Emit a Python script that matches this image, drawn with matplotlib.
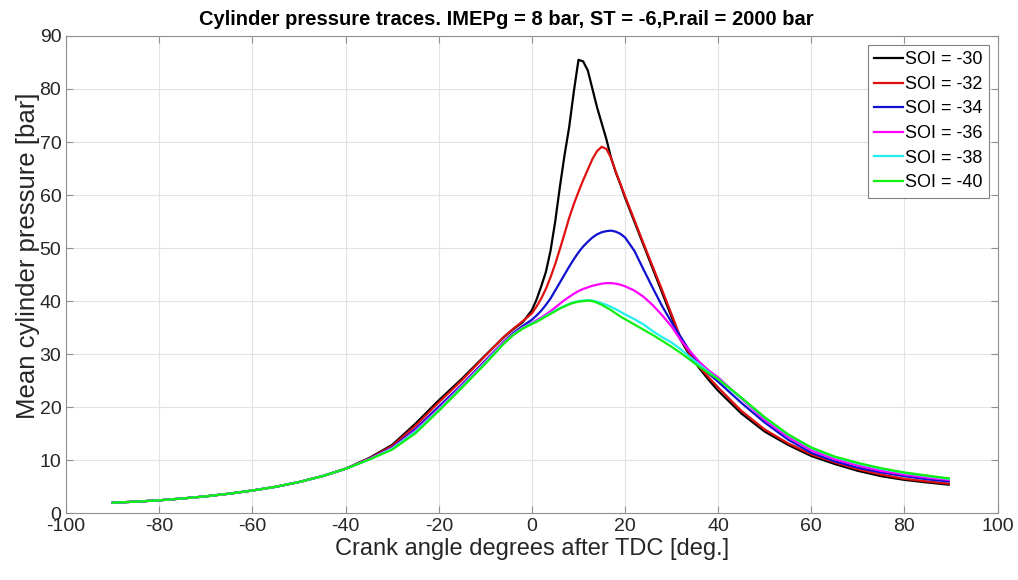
import matplotlib
matplotlib.use('Agg')
import matplotlib.pyplot as plt

# crank angle grid [deg ATDC]
angle = [-90, -85, -80, -75, -70, -65, -60, -55, -50, -45, -40, -35,
         -30, -25, -20, -15, -10, -8, -6, -4, -2, 0,
         1, 2, 3, 4, 5, 6, 7, 8, 9, 10, 11, 12, 13, 14, 15, 16, 17, 18, 19, 20,
         22, 24, 26, 28, 30, 32, 34, 36, 38, 40,
         45, 50, 55, 60, 65, 70, 75, 80, 85, 89.5]

# compression part shared by all traces
comp = [2.0, 2.2, 2.45, 2.8, 3.2, 3.7, 4.3, 5.0, 5.9, 7.0, 8.4]

p_soi30 = comp + [10.4, 12.9, 16.9, 21.3, 25.4, 29.8, 31.5, 33.2, 34.7, 36.0, 38.3,
                  40.3, 42.8, 45.5, 49.5, 55.0, 61.5, 67.5, 72.8, 79.5, 85.5,
                  85.2, 83.5, 80.0, 76.5, 73.5, 70.5, 67.0, 64.3, 62.0, 59.5,
                  55.0, 50.5, 46.0, 41.5, 37.0, 32.6, 29.6, 27.3, 25.1, 23.1,
                  18.8, 15.4, 12.9, 10.8, 9.3, 8.0, 7.0, 6.3, 5.8, 5.4]
p_soi32 = comp + [10.3, 12.7, 16.5, 20.9, 25.1, 29.7, 31.5, 33.3, 34.8, 36.2, 37.7,
                  39.0, 40.5, 42.3, 44.5, 47.0, 49.8, 52.7, 55.7, 58.3, 60.6,
                  62.8, 64.8, 66.8, 68.3, 69.1, 68.7, 67.0, 64.4, 62.1, 59.8,
                  55.3, 50.8, 46.4, 42.0, 37.5, 32.9, 29.9, 27.6, 25.6, 23.7,
                  19.3, 15.8, 13.2, 11.1, 9.6, 8.3, 7.3, 6.5, 6.0, 5.6]
p_soi34 = comp + [10.2, 12.4, 15.9, 20.1, 24.3, 28.8, 30.6, 32.4, 34.0, 35.3, 36.5,
                  37.3, 38.2, 39.3, 40.5, 42.0, 43.5, 45.0, 46.5, 47.9, 49.2,
                  50.3, 51.2, 52.0, 52.6, 53.0, 53.2, 53.3, 53.1, 52.7, 52.0,
                  49.5, 45.9, 42.4, 39.0, 36.0, 33.2, 30.4, 28.1, 26.3, 24.8,
                  20.8, 17.1, 13.9, 11.4, 9.8, 8.6, 7.7, 7.0, 6.4, 6.0]
p_soi36 = comp + [10.2, 12.3, 15.6, 19.7, 24.1, 28.6, 30.5, 32.3, 33.8, 35.0, 35.9,
                  36.4, 36.9, 37.5, 38.1, 38.8, 39.5, 40.2, 40.8, 41.4, 41.9,
                  42.3, 42.6, 42.9, 43.1, 43.3, 43.4, 43.4, 43.3, 43.1, 42.8,
                  42.0, 40.8, 39.2, 37.3, 35.2, 32.6, 30.5, 28.5, 26.9, 25.6,
                  21.6, 17.6, 14.4, 11.9, 10.2, 9.0, 8.0, 7.3, 6.7, 6.3]
p_soi38 = comp + [10.1, 12.2, 15.4, 19.5, 23.9, 28.4, 30.3, 32.1, 33.7, 34.9, 35.8,
                  36.2, 36.7, 37.2, 37.7, 38.2, 38.7, 39.1, 39.5, 39.8, 40.0,
                  40.1, 40.2, 40.1, 39.9, 39.6, 39.3, 38.9, 38.5, 38.0, 37.5,
                  36.6, 35.6, 34.3, 33.2, 32.2, 30.9, 29.4, 28.0, 26.6, 25.3,
                  21.7, 18.0, 14.8, 12.3, 10.6, 9.4, 8.4, 7.6, 7.0, 6.5]
p_soi40 = comp + [10.1, 12.0, 15.1, 19.3, 23.7, 28.2, 30.1, 32.0, 33.6, 34.8, 35.7,
                  36.1, 36.6, 37.1, 37.6, 38.1, 38.6, 39.0, 39.4, 39.7, 39.9,
                  40.0, 40.1, 40.0, 39.7, 39.3, 38.8, 38.3, 37.7, 37.1, 36.6,
                  35.6, 34.6, 33.6, 32.5, 31.4, 30.2, 28.9, 27.6, 26.4, 25.3,
                  21.8, 18.1, 14.9, 12.4, 10.7, 9.5, 8.5, 7.7, 7.1, 6.6]

labels = ['SOI = -30', 'SOI = -32', 'SOI = -34', 'SOI = -36', 'SOI = -38', 'SOI = -40']
traces = [p_soi30, p_soi32, p_soi34, p_soi36, p_soi38, p_soi40]
colors = ['#000000', '#e01010', '#1010d0', '#ff00ff', '#22eeee', '#11ee11']

plt.rcParams['font.family'] = ['Liberation Sans', 'DejaVu Sans']
plt.rcParams['axes.unicode_minus'] = False

fig = plt.figure(figsize=(10.18, 5.8), dpi=100)
ax = fig.add_axes([0.065, 0.115, 0.915, 0.823])

for p, lab, c in zip(traces, labels, colors):
    ax.plot(angle, p, color=c, lw=1.6, label=lab)

ax.set_xlim(-100, 100)
ax.set_ylim(0, 90)
ax.set_xticks(range(-100, 101, 20))
ax.set_yticks(range(0, 91, 10))
ax.grid(True, color='#e3e3e3', lw=0.8)
ax.set_axisbelow(True)
for s in ax.spines.values():
    s.set_color('#909090')
ax.tick_params(direction='in', top=True, right=True, labelsize=14,
               colors='#909090', labelcolor='#262626', length=5)

ax.set_xlabel('Crank angle degrees after TDC [deg.]', fontsize=17, color='#262626', labelpad=2)
ax.set_ylabel('Mean cylinder pressure [bar]', fontsize=18.5, color='#262626')
ax.yaxis.set_label_coords(-0.028, 0.54)
ax.set_title('Cylinder pressure traces. IMEPg = 8 bar, ST = -6,P.rail = 2000 bar',
             fontsize=14.5, fontweight='bold', x=0.473, pad=8)

leg = ax.legend(loc='upper right', fontsize=13, handlelength=1.6, handletextpad=0.1,
                borderpad=0.35, labelspacing=0.42, fancybox=False, framealpha=1,
                borderaxespad=0.5)
leg.get_frame().set_edgecolor('#808080')
leg.get_frame().set_linewidth(0.8)

fig.savefig('out.png', dpi=100)
